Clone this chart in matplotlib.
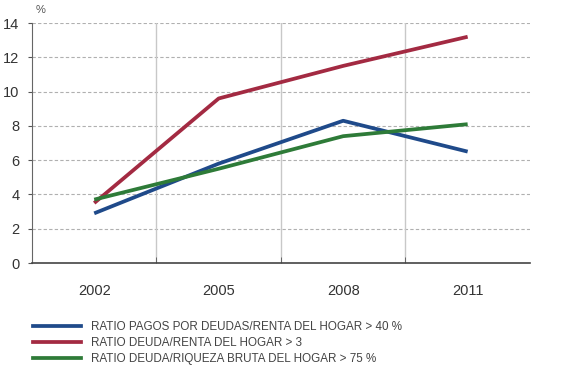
import matplotlib.pyplot as plt
from matplotlib.lines import Line2D

anios = ["2002", "2005", "2008", "2011"]
ratio_pagos = [2.9, 5.8, 8.3, 6.5]
ratio_renta = [3.5, 9.6, 11.5, 13.2]
ratio_riqueza = [3.7, 5.5, 7.4, 8.1]

etiquetas = [
    "RATIO PAGOS POR DEUDAS/RENTA DEL HOGAR > 40 %",
    "RATIO DEUDA/RENTA DEL HOGAR > 3",
    "RATIO DEUDA/RIQUEZA BRUTA DEL HOGAR > 75 %",
]
colores = ["#1f4a8a", "#a32a42", "#2e7b38"]

plt.rcParams["font.family"] = ["Liberation Sans Narrow", "Liberation Sans", "DejaVu Sans"]

fig = plt.figure(figsize=(5.71, 3.84), dpi=100)
ax = fig.add_axes([0.056, 0.315, 0.872, 0.625])

x = list(range(len(anios)))
for serie, color in zip([ratio_pagos, ratio_renta, ratio_riqueza], colores):
    ax.plot(x, serie, color=color, lw=2.7, solid_capstyle="butt", zorder=3)

ax.set_xlim(-0.5, 3.5)
ax.set_ylim(0, 14)
ax.set_yticks(range(0, 15, 2))
for v in range(2, 15, 2):
    ax.axhline(v, color="#b0b0b0", lw=0.8, ls=(0, (3, 2)), zorder=1)
for b in [0.5, 1.5, 2.5]:
    ax.axvline(b, color="#c8c8c8", lw=1.0, zorder=1)

ax.set_xticks(x)
ax.set_xticklabels(anios)
ax.set_xticks([0.5, 1.5, 2.5], minor=True)
ax.tick_params(axis="x", which="major", length=0, pad=15, labelsize=10.5, labelcolor="#333333")
ax.tick_params(axis="x", which="minor", length=4, color="#555555", direction="in")
ax.tick_params(axis="y", length=3, color="#555555", labelsize=10.5, labelcolor="#333333", pad=6)

for lado in ["top", "right"]:
    ax.spines[lado].set_visible(False)
ax.spines["left"].set_color("#666666")
ax.spines["bottom"].set_color("#444444")
ax.spines["bottom"].set_linewidth(1.2)

fig.text(0.063, 0.975, "%", fontsize=8, color="#555555", va="center")

manijas = [Line2D([0], [0], color=c, lw=2.7) for c in colores]
fig.legend(manijas, etiquetas, loc="upper left", bbox_to_anchor=(0.05, 0.176),
           frameon=False, fontsize=8.4, handlelength=4.1, handletextpad=0.85,
           labelspacing=0.36, labelcolor="#444444", borderaxespad=0)

fig.savefig("out.png", dpi=100)
